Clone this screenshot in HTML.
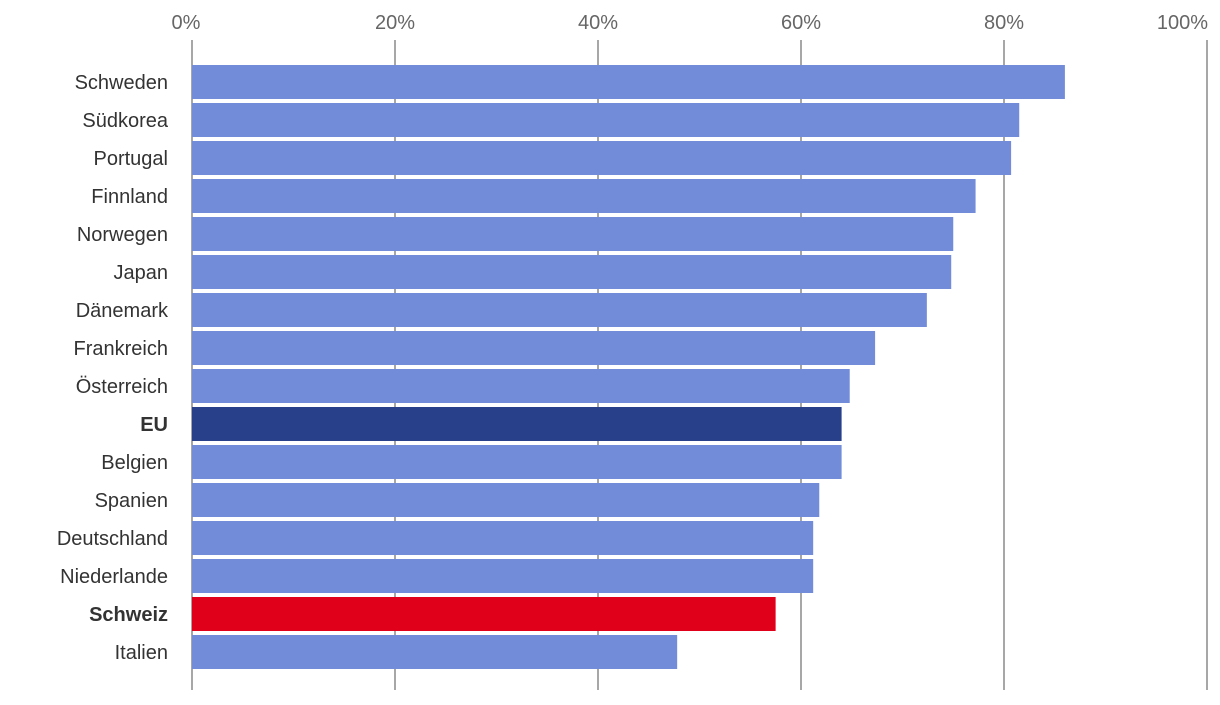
<!DOCTYPE html>
<html><head><meta charset="utf-8"><style>
body{margin:0;background:#fff;width:1220px;height:700px;overflow:hidden;font-family:"Liberation Sans",sans-serif;}
</style></head><body>
<svg id="chart" width="1220" height="700" xmlns="http://www.w3.org/2000/svg"></svg>
<script>
const categories=["Schweden","Südkorea","Portugal","Finnland","Norwegen","Japan","Dänemark","Frankreich","Österreich","EU","Belgien","Spanien","Deutschland","Niederlande","Schweiz","Italien"];
const values=[86.0,81.5,80.7,77.2,75.0,74.8,72.4,67.3,64.8,64.0,64.0,61.8,61.2,61.2,57.5,47.8];
const ticks=[0,20,40,60,80,100];
const tickLabels=["0%","20%","40%","60%","80%","100%"];
const highlight={"EU":"#283f8a","Schweiz":"#e0001a"};
const NS="http://www.w3.org/2000/svg";
const svg=document.getElementById("chart");
const x0=192,x1=1207;
const xs=v=>x0+(x1-x0)*v/100;
const ys=i=>82+38*i;
function mk(t,a){const e=document.createElementNS(NS,t);for(const k in a)e.setAttribute(k,a[k]);svg.appendChild(e);return e;}
ticks.forEach((t,i)=>{
  const g=mk("line",{x1:xs(t),x2:xs(t),y1:40,y2:690,stroke:"#8a8a8a","stroke-width":1.5});
  
  
  const anchor=i===ticks.length-1?"end":"middle";
  const lx=i===0?xs(t)-6:(i===ticks.length-1?xs(t)+1:xs(t));
  const tx=mk("text",{x:lx,y:29,"text-anchor":anchor,"font-size":20,fill:"#666"});
  tx.textContent=tickLabels[i];
  
  
});
categories.forEach((c,i)=>{
  const r=mk("rect",{x:xs(0),y:ys(i)-17,width:xs(values[i])-xs(0),height:34,fill:highlight[c]||"#728cd9"});
  
  
  const t=mk("text",{x:168,y:ys(i)+7,"text-anchor":"end","font-size":20,fill:"#333","font-weight":highlight[c]?"bold":"normal"});
  t.textContent=c;
  
  
});
</script>
</body></html>
